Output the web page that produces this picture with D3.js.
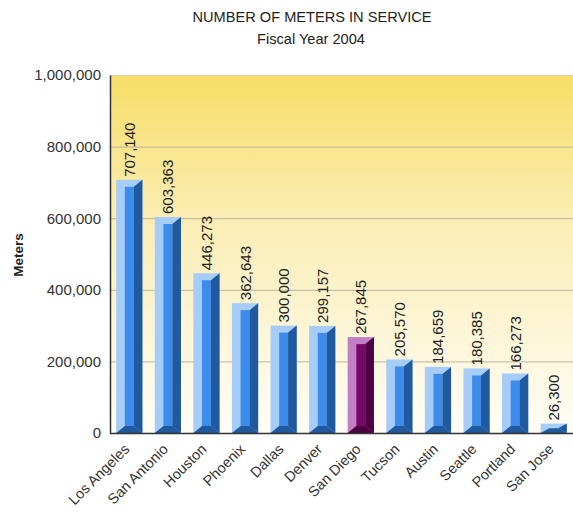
<!DOCTYPE html>
<html><head><meta charset="utf-8">
<script src="https://cdn.jsdelivr.net/npm/d3@7"></script>
<style>body{margin:0;background:#fff}svg{display:block;font-family:Arial,"Liberation Sans",sans-serif}</style>
</head><body>
<svg id="c" width="573" height="519"></svg>
<script>
const cities = ["Los Angeles","San Antonio","Houston","Phoenix","Dallas","Denver","San Diego","Tucson","Austin","Seattle","Portland","San Jose"];
const meters = [707140,603363,446273,362643,300000,299157,267845,205570,184659,180385,166273,26300];
const highlight = ["San Diego"];
const yTicks = [0,200000,400000,600000,800000,1000000];
const titleLines = ["NUMBER OF METERS IN SERVICE","Fiscal Year 2004"];
const yLabel = "Meters";

const svg = d3.select("#c");
const m = {l:110, r:573, t:75, b:433};
const x = d3.scaleBand().domain(cities).range([m.l, m.r]).paddingInner(0.32).paddingOuter(0.16);
const y = d3.scaleLinear().domain([0,1000000]).range([m.b, m.t]);

const defs = svg.append("defs");
const g = defs.append("linearGradient").attr("id","bg").attr("x1",0).attr("y1",0).attr("x2",0).attr("y2",1);
g.append("stop").attr("offset","0%").attr("stop-color","#f7de66");
g.append("stop").attr("offset","40%").attr("stop-color","#fbedb4");
g.append("stop").attr("offset","100%").attr("stop-color","#fffdf6");

svg.append("rect").attr("x",m.l).attr("y",m.t).attr("width",m.r-m.l).attr("height",m.b-m.t).attr("fill","url(#bg)");

// gridlines
svg.append("g").selectAll("line").data(yTicks.filter(d=>d>0)).join("line")
  .attr("x1",m.l).attr("x2",m.r).attr("y1",d=>y(d)+0.5).attr("y2",d=>y(d)+0.5)
  .attr("stroke",d=>d===1000000?"#d8d0b0":"#bcb49c").attr("stroke-width",1);

// y axis
const ya = svg.append("g").attr("transform",`translate(${m.l},0)`)
  .call(d3.axisLeft(y).tickValues(yTicks).tickFormat(d3.format(",")).tickSize(0).tickPadding(9));
ya.select(".domain").attr("stroke","#333").attr("stroke-width",1.5);
ya.selectAll("text").attr("font-size",15).attr("fill","#333").attr("font-family","Arial, 'Liberation Sans', sans-serif");

// bars
const colors = {
  normal:{light:"#a6cdf8", mid:"#3d8ceb", dark:"#21599e"},
  hi:{light:"#c27ec6", mid:"#740a66", dark:"#4c0042"}
};
const bars = svg.append("g").selectAll("g").data(cities.map((c,i)=>({c,v:meters[i]}))).join("g");
bars.each(function(d){
  const s = d3.select(this);
  const col = highlight.includes(d.c)?colors.hi:colors.normal;
  const x0 = x(d.c), w = x.bandwidth(), x1 = x0+w;
  const top = y(d.v), bot = y(0);
  const h = bot-top;
  const bx = Math.min(9, w*0.33), by = Math.min(7, h/2);
  s.append("rect").attr("x",x0).attr("y",top).attr("width",w).attr("height",h).attr("fill",col.light);
  s.append("rect").attr("x",x0+bx).attr("y",top+by).attr("width",Math.max(0,w-2*bx)).attr("height",Math.max(0,h-2*by)).attr("fill",col.mid);
  s.append("polygon").attr("points",[[x1,top],[x1,bot],[x1-bx,bot-by],[x1-bx,top+by]].join(" ")).attr("fill",col.dark);
  s.append("polygon").attr("points",[[x0,bot],[x1,bot],[x1-bx,bot-by],[x0+bx,bot-by]].join(" ")).attr("fill",col.dark);
});

// value labels
svg.append("g").selectAll("text").data(meters).join("text")
  .attr("transform",(d,i)=>`translate(${x(cities[i])+x.bandwidth()/2+5.5},${y(d)-3}) rotate(-90)`)
  .attr("font-size",15).attr("fill","#222").text(d=>d3.format(",")(d));

// x axis line
svg.append("line").attr("x1",m.l).attr("x2",m.r).attr("y1",m.b+0.5).attr("y2",m.b+0.5).attr("stroke","#333").attr("stroke-width",1.5);

// x labels
svg.append("g").selectAll("text").data(cities).join("text")
  .attr("transform",d=>`translate(${x(d)+x.bandwidth()/2+1},${m.b+17}) rotate(-45)`)
  .attr("text-anchor","end").attr("font-size",14.5).attr("fill","#333").text(d=>d);

// titles
svg.append("text").attr("x",312).attr("y",22).attr("text-anchor","middle").attr("font-size",14.6).attr("fill","#222").text(titleLines[0]);
svg.append("text").attr("x",311).attr("y",44).attr("text-anchor","middle").attr("font-size",14.6).attr("fill","#222").text(titleLines[1]);
svg.append("text").attr("transform","translate(23,255) rotate(-90)").attr("text-anchor","middle").attr("font-size",13.5).attr("font-weight","bold").attr("fill","#222").text(yLabel);
</script>
</body></html>
